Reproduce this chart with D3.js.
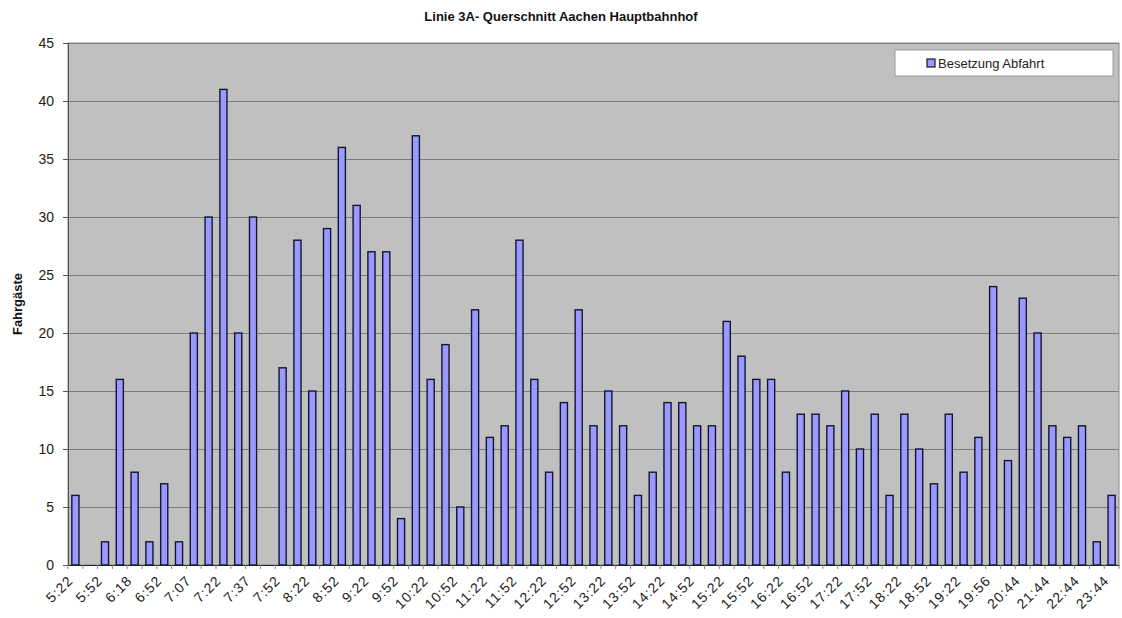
<!DOCTYPE html>
<html>
<head>
<meta charset="utf-8">
<script src="https://cdn.jsdelivr.net/npm/d3@7"></script>
<style>
  body { margin: 0; background: #ffffff; }
  svg { display: block; font-family: "Liberation Sans", Arial, sans-serif; }
</style>
</head>
<body>
<div id="chart-container"></div>
<script>
// Beschriftete Abfahrtszeiten (nur jede zweite Kategorie ist beschriftet)
const zeitLabels = ["5:22", "5:52", "6:18", "6:52", "7:07", "7:22", "7:37", "7:52", "8:22", "8:52",
    "9:22", "9:52", "10:22", "10:52", "11:22", "11:52", "12:22", "12:52", "13:22", "13:52",
    "14:22", "14:52", "15:22", "15:52", "16:22", "16:52", "17:22", "17:52", "18:22", "18:52",
    "19:22", "19:56", "20:44", "21:44", "22:44", "23:44"];

// Besetzung Abfahrt je Fahrt (null = kein Wert)
const besetzung = [6, null, 2, 16, 8, 2, 7, 2, 20, 30,
    41, 20, 30, null, 17, 28, 15, 29, 36, 31,
    27, 27, 4, 37, 16, 19, 5, 22, 11, 12,
    28, 16, 8, 14, 22, 12, 15, 12, 6, 8,
    14, 14, 12, 12, 21, 18, 16, 16, 8, 13,
    13, 12, 15, 10, 13, 6, 13, 10, 7, 13,
    8, 11, 24, 9, 23, 20, 12, 11, 12, 2,
    6];

const yTicks = [0, 5, 10, 15, 20, 25, 30, 35, 40, 45];
const titel = "Linie 3A- Querschnitt Aachen Hauptbahnhof";
const yTitel = "Fahrgäste";
const serienName = "Besetzung Abfahrt";

function grafico() {
    const width = 1122;
    const height = 618;
    const marginTop = 43;
    const marginRight = 3;
    const marginBottom = 53;
    const marginLeft = 68;

    const svg = d3.select("#chart-container").append("svg")
        .attr("width", width)
        .attr("height", height)
        .attr("viewBox", [0, 0, width, height]);

    const x = d3.scaleBand()
        .domain(d3.range(besetzung.length))
        .range([marginLeft, width - marginRight])
        .paddingInner(0.52)
        .paddingOuter(0.26);

    const y = d3.scaleLinear()
        .domain([0, 45])
        .range([height - marginBottom, marginTop]);

    // Zeichenfläche
    svg.append("rect")
        .attr("x", marginLeft)
        .attr("y", marginTop)
        .attr("width", width - marginLeft - marginRight)
        .attr("height", height - marginTop - marginBottom)
        .attr("fill", "#c0c0c0")
        .attr("stroke", "#8a8a8a")
        .attr("stroke-width", 1);

    // Gitterlinien
    svg.append("g")
        .selectAll("line")
        .data(yTicks.filter(d => d > 0))
        .join("line")
        .attr("x1", marginLeft)
        .attr("x2", width - marginRight)
        .attr("y1", d => y(d) + 0.5)
        .attr("y2", d => y(d) + 0.5)
        .attr("stroke", "#7d7d7d")
        .attr("stroke-width", 1);

    // Balken
    svg.append("g")
        .selectAll("rect")
        .data(besetzung.map((v, i) => ({ i, v })).filter(d => d.v !== null))
        .join("rect")
        .attr("x", d => x(d.i))
        .attr("y", d => y(d.v))
        .attr("width", x.bandwidth())
        .attr("height", d => y(0) - y(d.v))
        .attr("fill", "#9999ff")
        .attr("stroke", "#15152e")
        .attr("stroke-width", 1.4);

    // Y-Achse
    svg.append("g")
        .attr("transform", `translate(${marginLeft},0)`)
        .call(d3.axisLeft(y).tickValues(yTicks).tickSize(5).tickPadding(9))
        .call(g => g.select(".domain").attr("stroke", "#555"))
        .call(g => g.selectAll(".tick line").attr("stroke", "#555"))
        .call(g => g.selectAll("text")
            .style("font-size", "14px")
            .attr("fill", "#222"));

    // X-Achse, beschriftet wird jede zweite Kategorie
    const xAxis = svg.append("g")
        .attr("transform", `translate(0,${height - marginBottom})`)
        .call(d3.axisBottom(x)
            .tickValues(d3.range(0, besetzung.length, 2))
            .tickFormat(i => zeitLabels[i / 2])
            .tickSize(0)
            .tickSizeOuter(0));
    xAxis.select(".domain").attr("stroke", "#222");
    xAxis.selectAll("text")
        .style("font-size", "14px")
        .style("letter-spacing", "1px")
        .attr("fill", "#222")
        .attr("text-anchor", "end")
        .attr("transform", "translate(-5,13) rotate(-45)")
        .attr("x", 0)
        .attr("y", 0)
        .attr("dy", "0.35em");

    // Teilstriche an den Kategoriegrenzen
    const halbLuecke = x.step() * x.paddingInner() / 2;
    xAxis.append("g")
        .selectAll("line")
        .data(d3.range(besetzung.length + 1))
        .join("line")
        .attr("x1", i => i < besetzung.length ? x(i) - halbLuecke : x(i - 1) + x.bandwidth() + halbLuecke)
        .attr("x2", i => i < besetzung.length ? x(i) - halbLuecke : x(i - 1) + x.bandwidth() + halbLuecke)
        .attr("y1", 0)
        .attr("y2", 4)
        .attr("stroke", "#888");

    // Titel
    svg.append("text")
        .attr("x", 561)
        .attr("y", 21)
        .attr("text-anchor", "middle")
        .style("font-size", "13px")
        .style("font-weight", "bold")
        .attr("fill", "#111")
        .text(titel);

    // Y-Achsentitel
    svg.append("text")
        .attr("transform", `translate(22,${(marginTop + height - marginBottom) / 2}) rotate(-90)`)
        .attr("text-anchor", "middle")
        .style("font-size", "13px")
        .style("font-weight", "bold")
        .attr("fill", "#111")
        .text(yTitel);

    // Legende
    const legend = svg.append("g")
        .attr("transform", "translate(895,50)");
    legend.append("rect")
        .attr("width", 218)
        .attr("height", 26)
        .attr("fill", "#ffffff")
        .attr("stroke", "#9a9a9a");
    legend.append("rect")
        .attr("x", 32)
        .attr("y", 9)
        .attr("width", 8)
        .attr("height", 8)
        .attr("fill", "#9999ff")
        .attr("stroke", "#15152e")
        .attr("stroke-width", 1.2);
    legend.append("text")
        .attr("x", 43)
        .attr("y", 17.5)
        .style("font-size", "13px")
        .attr("fill", "#222")
        .text(serienName);
}

grafico();
</script>
</body>
</html>
